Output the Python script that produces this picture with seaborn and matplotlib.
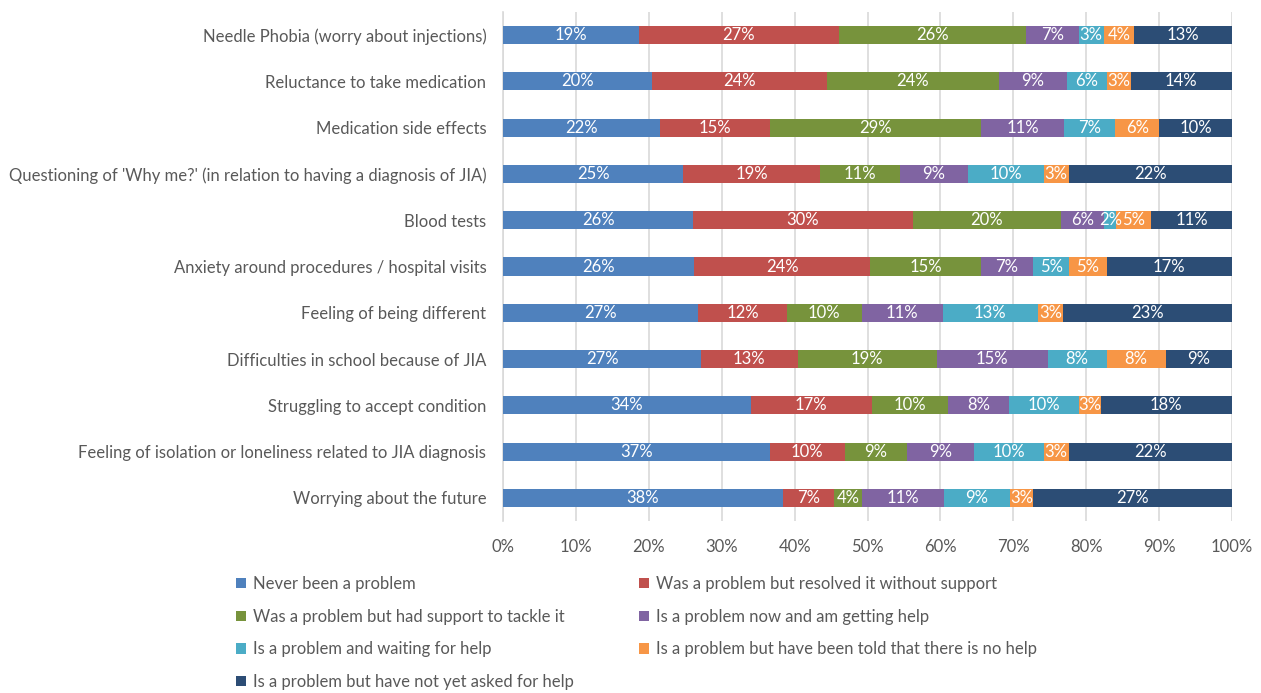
import matplotlib
matplotlib.use("Agg")
import matplotlib.pyplot as plt
from matplotlib.patches import Patch
import numpy as np
import pandas as pd
import seaborn as sns

categories = [
    "Needle Phobia (worry about injections)",
    "Reluctance to take medication",
    "Medication side effects",
    "Questioning of 'Why me?' (in relation to having a diagnosis of JIA)",
    "Blood tests",
    "Anxiety around procedures / hospital visits",
    "Feeling of being different",
    "Difficulties in school because of JIA",
    "Struggling to accept condition",
    "Feeling of isolation or loneliness related to JIA diagnosis",
    "Worrying about the future",
]

series_names = [
    "Never been a problem",
    "Was a problem but resolved it without support",
    "Was a problem but had support to tackle it",
    "Is a problem now and am getting help",
    "Is a problem and waiting for help",
    "Is a problem but have been told that there is no help",
    "Is a problem but have not yet asked for help",
]

never_problem = [18.6, 20.4, 21.6, 24.7, 26.1, 26.2, 26.8, 27.2, 34.0, 36.6, 38.4]
resolved_without = [27.4, 24.0, 15.0, 18.7, 30.1, 24.2, 12.1, 13.2, 16.6, 10.2, 7.0]
had_support = [25.7, 23.6, 29.0, 11.0, 20.3, 15.2, 10.3, 19.1, 10.4, 8.6, 3.9]
getting_help = [7.2, 9.3, 11.4, 9.3, 6.0, 7.1, 11.1, 15.2, 8.4, 9.1, 11.2]
waiting_help = [3.4, 5.6, 7.0, 10.4, 1.6, 5.0, 13.1, 8.1, 9.6, 9.6, 9.0]
told_no_help = [4.2, 3.2, 6.0, 3.4, 4.8, 5.1, 3.4, 8.1, 3.0, 3.4, 3.2]
not_asked = [13.4, 13.9, 10.0, 22.4, 11.1, 17.2, 23.2, 9.1, 18.0, 22.4, 27.3]

series_values = [never_problem, resolved_without, had_support, getting_help,
                 waiting_help, told_no_help, not_asked]

colors = ["#4F81BD", "#C0504D", "#77933C", "#8064A2", "#4BACC6", "#F79646", "#2C4D75"]

x_ticks = [0, 10, 20, 30, 40, 50, 60, 70, 80, 90, 100]
x_tick_labels = ["0%", "10%", "20%", "30%", "40%", "50%", "60%", "70%", "80%", "90%", "100%"]

sns.set_theme(style="white")
FONT = "Lato"
plt.rcParams["font.family"] = [FONT, "DejaVu Sans"]
TXT = "#595959"
FS = 12

vals = np.array(series_values, dtype=float)  # shape (series, cats)
totals = vals.sum(axis=0)
shares = vals / totals * 100.0  # 100% stacked
cums = np.cumsum(shares, axis=0)

fig = plt.figure(figsize=(12.61, 6.93), dpi=100)
ax = fig.add_axes([503 / 1261, 1 - 521 / 693, (1232 - 503) / 1261, (521 - 12) / 693])

# draw cumulative bars from last to first so each segment shows
for i in range(len(series_names) - 1, -1, -1):
    df = pd.DataFrame({"category": categories, "value": cums[i]})
    sns.barplot(data=df, y="category", x="value", orient="h", color=colors[i],
                width=0.39, saturation=1, ax=ax, zorder=3, linewidth=0)

# data labels
for i in range(len(series_names)):
    for j, cat in enumerate(categories):
        center = cums[i, j] - shares[i, j] / 2
        ax.text(center, j, f"{round(vals[i, j])}%", ha="center", va="center",
                color="white", fontsize=FS, zorder=5)

ax.set_xlim(0, 100)
ax.set_ylim(len(categories) - 0.5, -0.5)
ax.set_xticks(x_ticks)
ax.set_xticklabels(x_tick_labels)
ax.set_xlabel("")
ax.set_ylabel("")
ax.xaxis.grid(True, color="#D9D9D9", linewidth=1.2, zorder=0)
ax.yaxis.grid(False)
ax.set_axisbelow(True)
for s in ["top", "right", "bottom"]:
    ax.spines[s].set_visible(False)
ax.spines["left"].set_color("#D9D9D9")
ax.spines["left"].set_linewidth(1.2)
ax.tick_params(axis="both", length=0, labelsize=FS, labelcolor=TXT)
ax.tick_params(axis="y", pad=12)
ax.tick_params(axis="x", pad=13)

handles = [Patch(facecolor=c, edgecolor="none", label=n) for c, n in zip(colors, series_names)]
leg_kw = dict(frameon=False, fontsize=FS, labelcolor=TXT, handlelength=0.6,
              handleheight=0.6, handletextpad=0.4, labelspacing=1.0,
              borderpad=0, borderaxespad=0)
leg1 = fig.legend(handles=[handles[k] for k in (0, 2, 4, 6)], loc="upper left",
                  bbox_to_anchor=(236 / 1261, 1 - 576 / 693), **leg_kw)
leg2 = fig.legend(handles=[handles[k] for k in (1, 3, 5)], loc="upper left",
                  bbox_to_anchor=(639 / 1261, 1 - 576 / 693), **leg_kw)

fig.savefig("out.png", dpi=100)
